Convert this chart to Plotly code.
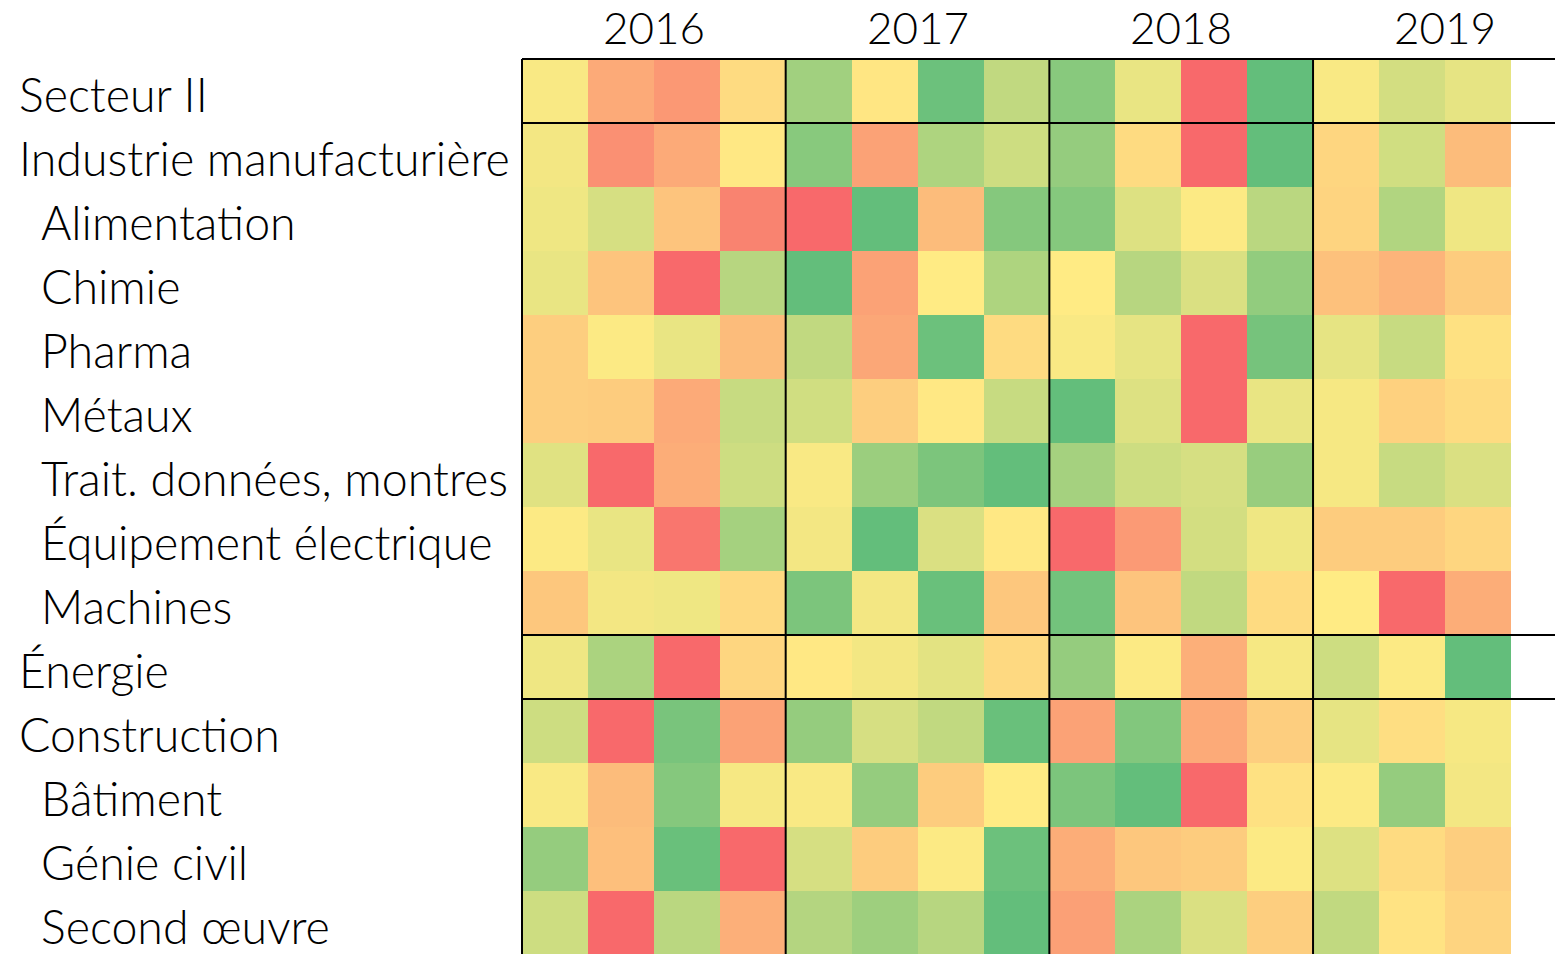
import plotly.graph_objects as go

years = ["2016", "2017", "2018", "2019"]
quarters = ["2016T1", "2016T2", "2016T3", "2016T4",
            "2017T1", "2017T2", "2017T3", "2017T4",
            "2018T1", "2018T2", "2018T3", "2018T4",
            "2019T1", "2019T2", "2019T3"]

rows = ["Secteur II", "Industrie manufacturière", "Alimentation", "Chimie",
        "Pharma", "Métaux", "Trait. données, montres", "Équipement électrique",
        "Machines", "Énergie", "Construction", "Bâtiment", "Génie civil",
        "Second œuvre"]
indent = [0, 0, 1, 1, 1, 1, 1, 1, 1, 0, 0, 1, 1, 1]

# relative score per row (0 = worst / red, 50 = median / yellow, 100 = best / green)
secteur_ii = [52, 25, 18, 44, 80, 48, 97, 70, 88, 57, 0, 100, 52, 64, 58]
industrie = [54, 15, 25, 49, 88, 22, 76, 66, 84, 44, 0, 100, 42, 65, 32]
alimentation = [55, 63, 35, 10, 0, 100, 32, 89, 89, 61, 51, 72, 41, 75, 55]
chimie = [57, 35, 0, 73, 100, 22, 50, 76, 50, 73, 62, 85, 34, 29, 38]
pharma = [39, 51, 57, 32, 70, 24, 97, 44, 52, 58, 0, 94, 58, 68, 46]
metaux = [39, 38, 25, 68, 65, 39, 49, 68, 100, 61, 0, 57, 53, 40, 44]
trait_donnees = [60, 0, 26, 66, 52, 82, 92, 100, 79, 66, 63, 83, 53, 68, 62]
equipement = [51, 57, 5, 79, 54, 100, 62, 49, 0, 19, 64, 55, 38, 38, 42]
machines = [36, 54, 55, 43, 92, 54, 98, 36, 95, 35, 70, 44, 50, 0, 26]
energie = [55, 77, 0, 42, 49, 54, 59, 43, 84, 51, 27, 53, 66, 51, 100]
construction = [66, 0, 93, 22, 84, 63, 70, 98, 22, 90, 25, 39, 58, 45, 53]
batiment = [52, 32, 89, 53, 52, 84, 38, 50, 92, 100, 0, 46, 51, 84, 54]
genie_civil = [84, 33, 98, 0, 63, 38, 51, 97, 26, 36, 38, 51, 61, 44, 39]
second_oeuvre = [66, 0, 72, 27, 74, 81, 73, 100, 21, 77, 62, 39, 70, 47, 41]

z = [secteur_ii, industrie, alimentation, chimie, pharma, metaux, trait_donnees,
     equipement, machines, energie, construction, batiment, genie_civil, second_oeuvre]

W, H = 1555, 954
L, T = 518, 55
col_w, row_h = 65.92, 64.0
x0_px, y0_px = 522, 59
plot_w = W - L
plot_h = H - T

x_lo = -0.5 - (x0_px - L) / col_w
x_hi = -0.5 + (W - x0_px) / col_w
y_top = -0.5 - (y0_px - T) / row_h
y_bot = -0.5 + (H - y0_px) / row_h

fig = go.Figure(go.Heatmap(
    z=z,
    x=list(range(len(quarters))),
    y=list(range(len(rows))),
    colorscale=[[0, "#F8696B"], [0.5, "#FFEB84"], [1, "#63BE7B"]],
    zmin=0, zmax=100,
    showscale=False,
    xgap=0, ygap=0,
    customdata=[[q for q in quarters] for _ in rows],
    hovertemplate="%{customdata}<extra></extra>",
))

shapes = []
# vertical separators between years (and left border)
for xb in [-0.5, 3.5, 7.5, 11.5]:
    shapes.append(dict(type="line", xref="x", yref="y", x0=xb, x1=xb,
                       y0=-0.5, y1=len(rows) + 1, line=dict(color="black", width=2)))
# horizontal group separators
for yb in [-0.5, 0.5, 8.5, 9.5]:
    shapes.append(dict(type="line", xref="x", yref="y", x0=-0.5, x1=x_hi + 1,
                       y0=yb, y1=yb, line=dict(color="black", width=2)))

annotations = []
font_family = "Lato, 'Noto Sans', sans-serif"
for i, name in enumerate(rows):
    px = 39 if indent[i] else 17
    annotations.append(dict(
        text=name, xref="paper", yref="y",
        x=(px - L) / plot_w, y=i, xanchor="left", yanchor="middle",
        showarrow=False, yshift=-3,
        font=dict(family=font_family, size=46.5, color="#000000", weight=300),
    ))
for k, yr in enumerate(years):
    annotations.append(dict(
        text=yr, xref="x", yref="paper",
        x=4 * k + 1.5, y=1 + (T - 27) / plot_h, xanchor="center", yanchor="middle",
        showarrow=False,
        font=dict(family=font_family, size=44, color="#000000", weight=300),
    ))

fig.update_layout(
    width=W, height=H,
    margin=dict(l=L, r=0, t=T, b=0, pad=0),
    paper_bgcolor="white", plot_bgcolor="white",
    xaxis=dict(range=[x_lo, x_hi], showgrid=False, zeroline=False,
               showticklabels=False, ticks="", fixedrange=True),
    yaxis=dict(range=[y_bot, y_top], showgrid=False, zeroline=False,
               showticklabels=False, ticks="", fixedrange=True),
    shapes=shapes,
    annotations=annotations,
    showlegend=False,
)

fig.write_html("out.html", config={"displayModeBar": False},
               post_script="document.body.style.margin='0';document.body.style.overflow='hidden';")
